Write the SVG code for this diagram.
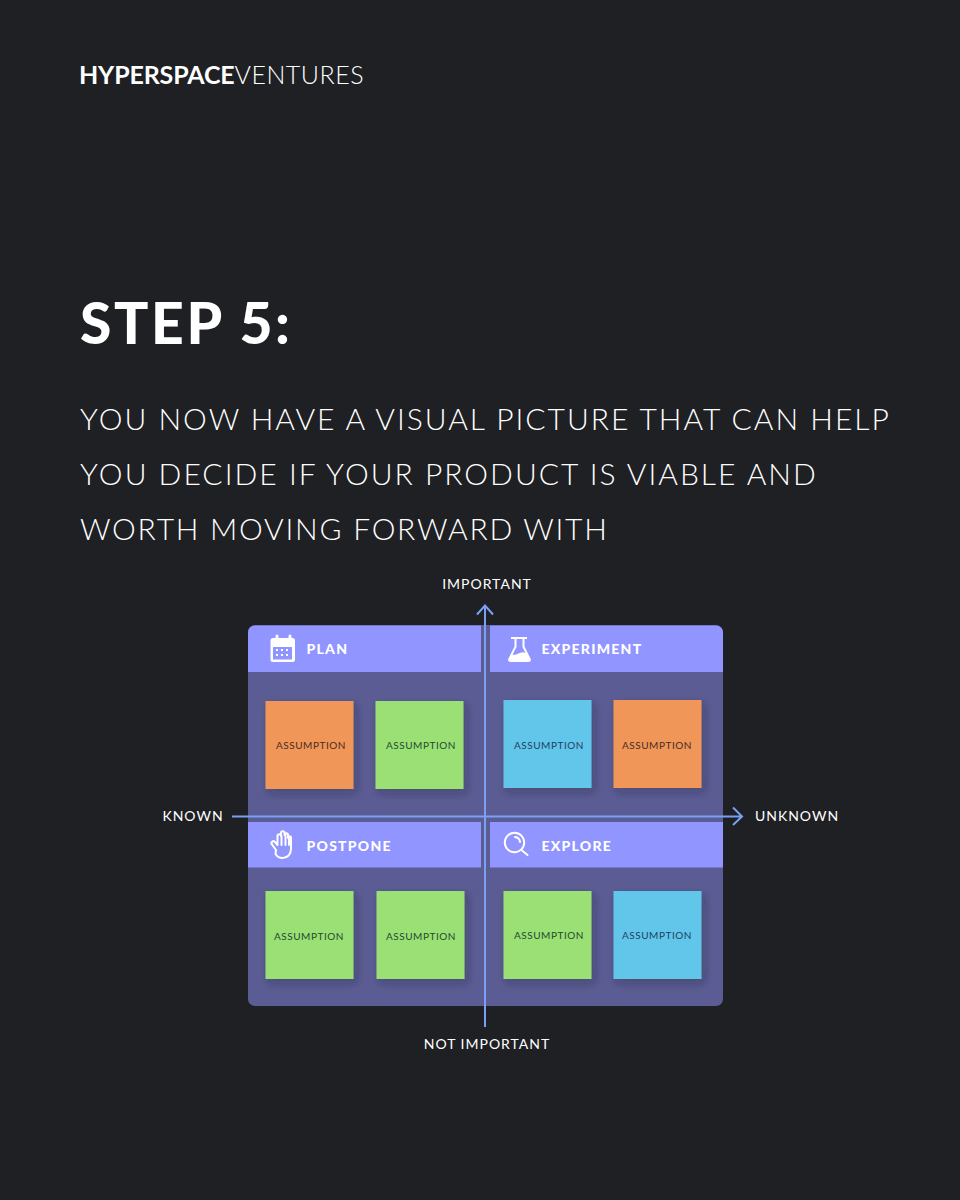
<svg xmlns="http://www.w3.org/2000/svg" width="960" height="1200" viewBox="0 0 960 1200">
<defs>
<style>
text{font-family:Lato,"Noto Sans",sans-serif;}
.body{font-size:30px;fill:#fff;font-weight:300;letter-spacing:2.2px;}
.axis{font-size:14px;fill:#fff;letter-spacing:1px;text-anchor:middle;font-weight:400;}
.hd{font-size:14px;fill:#fff;font-weight:900;letter-spacing:1.25px;}
.st{font-size:10px;letter-spacing:.55px;text-anchor:middle;font-weight:400;}
.head{fill:#9195ff;}
.or{fill:#f09658;}.gr{fill:#9ae074;}.bl{fill:#62c6ea;}
.ax{stroke:#7aa0f5;stroke-width:2;fill:none;}
.ic{fill:none;stroke:#fff;stroke-width:2;stroke-linecap:round;stroke-linejoin:round;}
</style>
<filter id="sh" x="-20%" y="-20%" width="150%" height="150%"><feDropShadow dx="3" dy="4" stdDeviation="4" flood-color="#1e2030" flood-opacity="0.3"/></filter>
</defs>
<rect width="960" height="1200" fill="#1f2024"/>
<g id="logo"><text x="79" y="84" font-size="25" fill="#fff" textLength="285" lengthAdjust="spacing"><tspan font-weight="700" letter-spacing="-0.3">HYPERSPACE</tspan><tspan font-weight="300" letter-spacing="0.375">VENTURES</tspan></text></g>
<g id="title"><text x="80" y="344" font-size="57" font-weight="900" fill="#fff" textLength="210" lengthAdjust="spacing">STEP 5:</text></g>
<g id="body">
<text class="body" x="80" y="430" textLength="811" lengthAdjust="spacing">YOU NOW HAVE A VISUAL PICTURE THAT CAN HELP</text>
<text class="body" x="80" y="485" textLength="738" lengthAdjust="spacing">YOU DECIDE IF YOUR PRODUCT IS VIABLE AND</text>
<text class="body" x="80" y="540" textLength="529" lengthAdjust="spacing">WORTH MOVING FORWARD WITH</text>
</g>
<g id="board"><rect x="248" y="625" width="475" height="381" rx="7" fill="#5a5c93"/></g>
<g id="plan">
<path class="head" d="M255 625.500H481V672H248V632.500A7 7 0 0 1 255 625.500Z"/>
<path fill="#fff" d="M273 638h2.500v-2a1.500 1.500 0 0 1 3 0V638h10v-2a1.500 1.500 0 0 1 3 0V638h1a2.500 2.500 0 0 1 2.500 2.500v19a2.500 2.500 0 0 1-2.500 2.500H273a2.500 2.500 0 0 1-2.500-2.500v-19A2.500 2.500 0 0 1 273 638Z"/>
<rect x="273" y="647" width="19" height="12.500" fill="#9195ff"/>
<g fill="#fff"><rect x="276" y="649" width="2" height="2"/><rect x="281" y="649" width="2" height="2"/><rect x="286" y="649" width="2" height="2"/><rect x="276" y="654" width="2" height="2"/><rect x="281" y="654" width="2" height="2"/><rect x="286" y="654" width="2" height="2"/></g>
<text class="hd" x="306.500" y="654">PLAN</text>
</g>
<g id="experiment">
<path class="head" d="M490 625.500H716A7 7 0 0 1 723 632.500V672H490Z"/>
<path fill="#fff" d="M511 637H527V639H524.500V646.500L530.500 658.500C531.500 660.500 530.500 662 528.500 662H510.500C508.500 662 507.500 660.500 508.500 658.500L514.500 646.500V639H511Z"/>
<path fill="#9195ff" d="M516.500 639H522.500V647L525.500 653C521 650 517 656 512.500 654.500L516.500 647Z"/>
<text class="hd" x="541.500" y="654">EXPERIMENT</text>
</g>
<g id="postpone">
<rect class="head" x="248" y="822" width="233" height="45.500"/>
<path class="ic" d="M276 850l-4-5.500c-1.800-2.200 1-4.500 3-2.500l2.500 3V836c0-2.500 3.500-2.500 3.500 0v-3c0-2.500 3.500-2.500 3.500 0v2c0-2.500 3.500-2.500 3.500 0v3c0-2.300 3-2.300 3 0v11c0 5.500-3.500 9-8.500 9c-3.500 0-5.500-1.500-7-4ZM281.500 836v9M285.500 835v10M289 837v8" stroke-width="1.700"/>
<text class="hd" x="306.500" y="851">POSTPONE</text>
</g>
<g id="explore">
<rect class="head" x="490" y="822" width="233" height="45.500"/>
<circle class="ic" cx="514.500" cy="842.500" r="9.700" stroke-width="2.500"/>
<path class="ic" d="M521.500 850l6 5" stroke-width="2.800"/>
<path class="ic" d="M515 837a5.500 5.500 0 0 1 5 5" stroke-width="1.500"/>
<text class="hd" x="541.500" y="851">EXPLORE</text>
</g>
<g id="sticky-plan-1"><rect class="or" x="265.500" y="701" width="88" height="88" filter="url(#sh)"/><text class="st" x="311" y="749" fill="#4a2c20">ASSUMPTION</text></g>
<g id="sticky-plan-2"><rect class="gr" x="375.500" y="701" width="88" height="88" filter="url(#sh)"/><text class="st" x="421" y="748.500" fill="#1f4a30">ASSUMPTION</text></g>
<g id="sticky-exp-1"><rect class="bl" x="503.500" y="700" width="88" height="88" filter="url(#sh)"/><text class="st" x="549" y="748.500" fill="#1e3f5e">ASSUMPTION</text></g>
<g id="sticky-exp-2"><rect class="or" x="613.500" y="700" width="88" height="88" filter="url(#sh)"/><text class="st" x="657" y="748.500" fill="#4a2c20">ASSUMPTION</text></g>
<g id="sticky-post-1"><rect class="gr" x="265.500" y="891" width="88" height="88" filter="url(#sh)"/><text class="st" x="309" y="939.500" fill="#1f4a30">ASSUMPTION</text></g>
<g id="sticky-post-2"><rect class="gr" x="376.500" y="891" width="88" height="88" filter="url(#sh)"/><text class="st" x="421" y="939.500" fill="#1f4a30">ASSUMPTION</text></g>
<g id="sticky-exl-1"><rect class="gr" x="503.500" y="891" width="88" height="88" filter="url(#sh)"/><text class="st" x="549" y="939" fill="#1f4a30">ASSUMPTION</text></g>
<g id="sticky-exl-2"><rect class="bl" x="613.500" y="891" width="88" height="88" filter="url(#sh)"/><text class="st" x="657" y="939" fill="#1e3f5e">ASSUMPTION</text></g>
<g id="connectors">
<path class="ax" d="M485 1027V606M477 614.500L485 605.500L493 614.500"/>
<path class="ax" d="M232 816.500H741.500M733 807.500L742 816.500L733 825"/>
</g>
<g id="axis-labels">
<text class="axis" x="487" y="589">IMPORTANT</text>
<text class="axis" x="487" y="1049">NOT IMPORTANT</text>
<text class="axis" x="193" y="821">KNOWN</text>
<text class="axis" x="797" y="821">UNKNOWN</text>
</g>
</svg>
